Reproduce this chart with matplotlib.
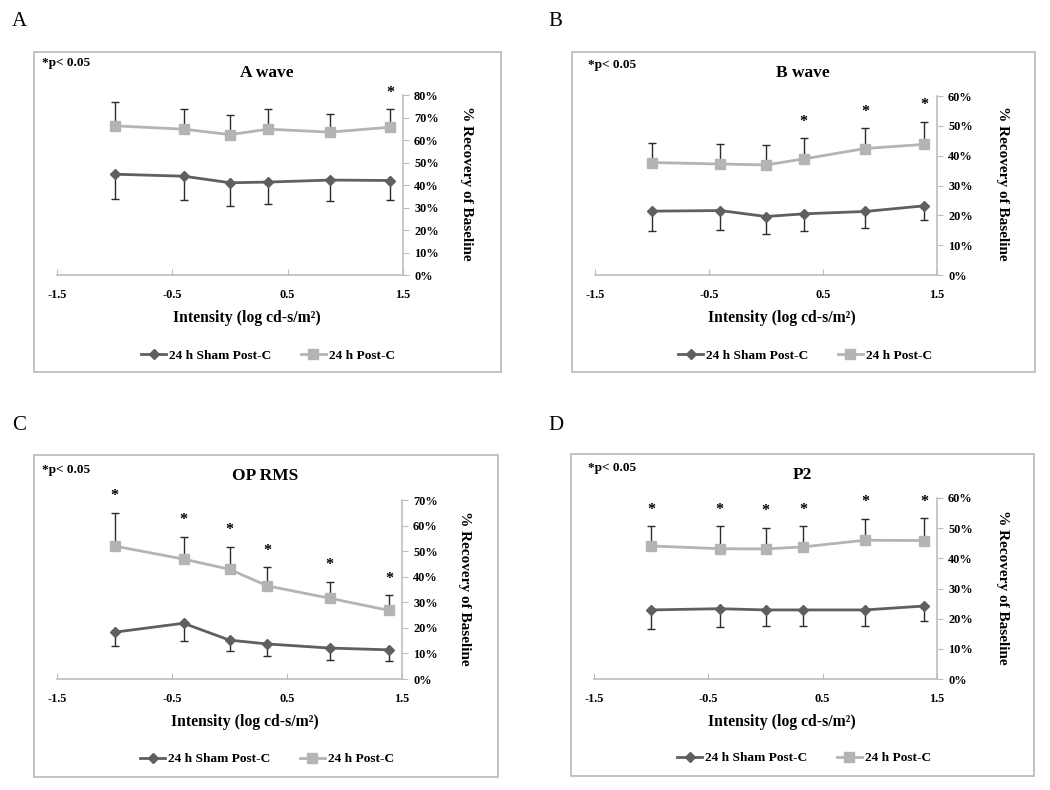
import numpy as np
import matplotlib
matplotlib.use("Agg")
import matplotlib.pyplot as plt
from matplotlib.patches import Rectangle

plt.rcParams['font.family'] = ['Liberation Serif', 'DejaVu Serif']
plt.rcParams['font.weight'] = 'bold'

# light intensities (log cd-s/m2)
intensity = [-1.0, -0.4, 0.0, 0.33, 0.87, 1.39]

# A wave
a_sham = [44.8, 43.9, 41.0, 41.3, 42.2, 42.0]
a_sham_err = [11.2, 10.6, 10.5, 9.9, 9.2, 8.7]
a_post = [66.3, 64.8, 62.4, 64.8, 63.5, 65.7]
a_post_err = [10.5, 8.9, 8.5, 9.2, 8.1, 8.0]
a_sig = [0, 0, 0, 0, 0, 1]

# B wave
b_sham = [21.4, 21.6, 19.6, 20.5, 21.3, 23.2]
b_sham_err = [6.7, 6.4, 5.8, 5.6, 5.5, 4.9]
b_post = [37.7, 37.2, 36.9, 38.9, 42.4, 43.8]
b_post_err = [6.7, 6.7, 6.6, 6.9, 6.9, 7.6]
b_sig = [0, 0, 0, 1, 1, 1]

# OP RMS
c_sham = [18.3, 21.8, 15.2, 13.7, 12.1, 11.4]
c_sham_err = [5.2, 6.8, 4.4, 4.6, 4.8, 4.2]
c_post = [52.0, 46.9, 42.9, 36.4, 31.6, 26.8]
c_post_err = [13.0, 8.8, 8.9, 7.4, 6.4, 6.0]
c_sig = [1, 1, 1, 1, 1, 1]

# P2
d_sham = [22.9, 23.3, 22.9, 22.9, 22.9, 24.2]
d_sham_err = [6.4, 6.0, 5.3, 5.3, 5.3, 4.9]
d_post = [44.1, 43.2, 43.1, 43.8, 46.0, 45.9]
d_post_err = [6.5, 7.4, 7.1, 6.8, 7.1, 7.4]
d_sig = [1, 1, 1, 1, 1, 1]

letters = ['A', 'B', 'C', 'D']
titles = ['A wave', 'B wave', 'OP RMS', 'P2']
ymax = [80, 60, 70, 60]
series_labels = ['24 h Sham Post-C', '24 h Post-C']
xticks = [-1.5, -0.5, 0.5, 1.5]
xtick_labels = ['-1.5', '-0.5', '0.5', '1.5']

shams = [a_sham, b_sham, c_sham, d_sham]
sham_errs = [a_sham_err, b_sham_err, c_sham_err, d_sham_err]
posts = [a_post, b_post, c_post, d_post]
post_errs = [a_post_err, b_post_err, c_post_err, d_post_err]
sigs = [a_sig, b_sig, c_sig, d_sig]

W, H = 1050, 790
DARK = '#5f5f5f'
LIGHT = '#b4b4b4'
GRID = '#bdbdbd'

fig = plt.figure(figsize=(W / 100, H / 100), dpi=100)

def fx(px):
    return px / W

def fy(py):
    return 1 - py / H

# layout in pixels: axes (l, t, r, b), box (l, t, r, b), and text anchors
axes_px = [(57, 95, 403, 275), (595, 96, 937, 275),
           (57, 500, 402, 679), (594, 498, 937, 679)]
box_px = [(34, 52, 501, 372), (572, 52, 1035, 372),
          (34, 455, 498, 777), (571, 454, 1034, 776)]
letter_px = [(12, 22), (548, 22), (12, 426), (548, 426)]
pnote_px = [(42, 63), (588, 65), (42, 470), (588, 468)]
title_px = [(267, 73), (803, 73), (265, 476), (802, 475)]
xlab_px = [(247, 318), (782, 318), (245, 722), (782, 722)]
ylab_px = [(467, 183), (1002, 183), (464, 588), (1002, 587)]
leg_px = [(268, 356), (805, 356), (267, 759), (804, 758)]

for i in range(4):
    l, t, r, b = box_px[i]
    fig.patches.append(Rectangle((fx(l), fy(b)), fx(r - l), (b - t) / H,
                                 transform=fig.transFigure, fill=False,
                                 edgecolor=GRID, lw=1.3))

    l, t, r, b = axes_px[i]
    ax = fig.add_axes([fx(l), fy(b), fx(r - l), (b - t) / H])

    x = np.array(intensity)
    sham = np.array(shams[i])
    post = np.array(posts[i])
    zeros = np.zeros(len(x))

    ax.errorbar(x, sham, yerr=[sham_errs[i], zeros], fmt='none',
                ecolor='#2b2b2b', elinewidth=1, capsize=3, capthick=1, zorder=2)
    ax.errorbar(x, post, yerr=[zeros, post_errs[i]], fmt='none',
                ecolor='#2b2b2b', elinewidth=1, capsize=3, capthick=1, zorder=2)
    l1, = ax.plot(x, sham, color=DARK, lw=2, marker='D', ms=5.5,
                  label=series_labels[0], zorder=3)
    l2, = ax.plot(x, post, color=LIGHT, lw=2, marker='s', ms=7,
                  label=series_labels[1], zorder=3)

    # significance stars above error bars
    for xi, yi, ei, s in zip(x, post, post_errs[i], sigs[i]):
        if s:
            ax.annotate('*', (xi, yi + ei), xytext=(0, 6), textcoords='offset points',
                        ha='center', va='bottom', fontsize=11.5, fontweight='bold',
                        annotation_clip=False)

    ax.set_xlim(-1.5, 1.5)
    ax.set_ylim(0, ymax[i])
    ax.set_xticks(xticks)
    ax.set_xticklabels(xtick_labels)
    ax.set_yticks(np.arange(0, ymax[i] + 1, 10))
    ax.set_yticklabels(['%d%%' % v for v in np.arange(0, ymax[i] + 1, 10)])
    ax.yaxis.tick_right()
    for side in ['top', 'left']:
        ax.spines[side].set_visible(False)
    for side in ['bottom', 'right']:
        ax.spines[side].set_color(GRID)
        ax.spines[side].set_linewidth(1.2)
    ax.tick_params(axis='x', direction='in', length=4, color=GRID,
                   labelsize=8.8, pad=10)
    ax.tick_params(axis='y', direction='out', length=4, color=GRID,
                   labelsize=8.8, pad=4)
    ax.patch.set_alpha(0)

    fig.text(fx(letter_px[i][0]), fy(letter_px[i][1]), letters[i],
             fontsize=15, fontweight='normal', ha='left', va='center')
    fig.text(fx(pnote_px[i][0]), fy(pnote_px[i][1]), '*p< 0.05',
             fontsize=9.5, ha='left', va='center')
    fig.text(fx(title_px[i][0]), fy(title_px[i][1]), titles[i],
             fontsize=12.5, ha='center', va='center')
    fig.text(fx(xlab_px[i][0]), fy(xlab_px[i][1]), 'Intensity (log cd-s/m²)',
             fontsize=11.3, ha='center', va='center')
    fig.text(fx(ylab_px[i][0]), fy(ylab_px[i][1]), '% Recovery of Baseline',
             fontsize=11, ha='center', va='center', rotation=270)
    fig.legend([l1, l2], series_labels, loc='center',
               bbox_to_anchor=(fx(leg_px[i][0]), fy(leg_px[i][1])),
               ncol=2, frameon=False, fontsize=9.6, handlelength=1.9,
               handletextpad=0.2, columnspacing=2.2)

plt.savefig('out.png', dpi=100)
